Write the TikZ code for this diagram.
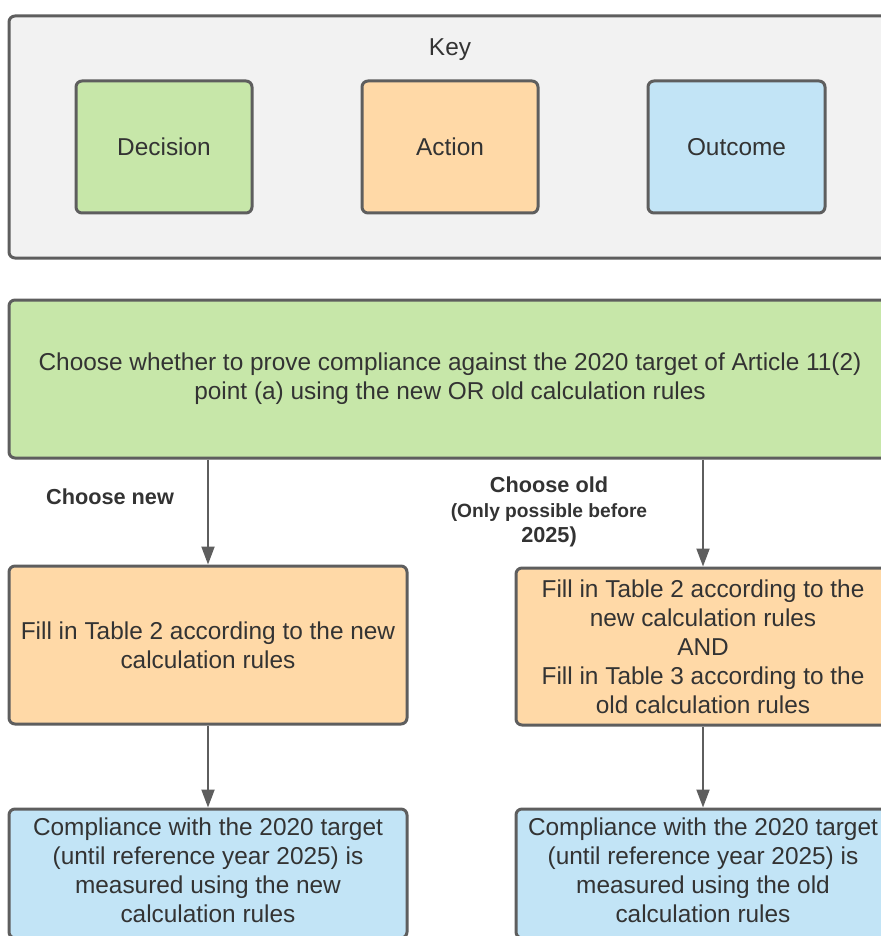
\documentclass[tikz,border=0pt]{standalone}
\usepackage{fontspec}
\setmainfont{Liberation Sans}
\usepackage{tikz}
\usetikzlibrary{arrows.meta}

\definecolor{keygray}{HTML}{F2F2F2}
\definecolor{edgegray}{HTML}{5E5E5E}
\definecolor{txtgray}{HTML}{333333}
\definecolor{decgreen}{HTML}{C7E7A9}
\definecolor{actorange}{HTML}{FFD9A7}
\definecolor{outblue}{HTML}{C2E4F6}

\begin{document}
\begin{tikzpicture}[x=0.5pt, y=-0.5pt,
                box/.style={draw=edgegray, line width=1.5pt, rounded corners=3pt, align=center, text=txtgray, font=\fontsize{12.2}{14.5}\selectfont, inner sep=0pt},
                decision/.style={box, fill=decgreen},
                action/.style={box, fill=actorange},
                outcome/.style={box, fill=outblue},
                flow/.style={draw=edgegray, line width=1pt, -{Triangle[length=9pt, width=6.5pt]}},
                choice/.style={text=txtgray, align=center, font=\bfseries\fontsize{10.85}{12.5}\selectfont}]
                \useasboundingbox (0,0) rectangle (881,936);
                \node[box, fill=keygray, minimum width=441pt, minimum height=121pt] (key) at (450,137) {};
                \node[text=txtgray, font=\fontsize{12.2}{14.5}\selectfont] (keytitle) at (450,50) {Key};
                \node[decision, minimum width=88pt, minimum height=66pt] (keydec) at (164,147) {Decision};
                \node[action, minimum width=88pt, minimum height=66pt] (keyact) at (450,147) {Action};
                \node[outcome, minimum width=88.5pt, minimum height=66pt] (keyout) at (736.5,147) {Outcome};
                \node[decision, minimum width=441pt, minimum height=79pt] (choose) at (450,379) {Choose whether to prove compliance against the 2020 target of Article 11(2)\\ point (a) using the new OR old calculation rules};
                \node[action, minimum width=199pt, minimum height=79pt] (newact) at (208,645) {Fill in Table 2 according to the new\\ calculation rules};
                \node[action, minimum width=187pt, minimum height=78.5pt] (oldact) at (703,646.5) {Fill in Table 2 according to the\\ new calculation rules\\ AND\\ Fill in Table 3 according to the\\ old calculation rules};
                \node[outcome, text depth=3.5pt, minimum width=199pt, minimum height=64.5pt] (newout) at (208,873.5) {Compliance with the 2020 target\\ (until reference year 2025) is\\ measured using the new\\ calculation rules};
                \node[outcome, text depth=3.5pt, minimum width=187pt, minimum height=64.5pt] (oldout) at (703,873.5) {Compliance with the 2020 target\\ (until reference year 2025) is\\ measured using the old\\ calculation rules};
                \node[choice] (newlabel) at (110,497) {Choose new};
                \node[choice] (oldlabel) at (549,512) {Choose old\\ \fontsize{9.6}{12.3}\selectfont (Only possible before\\ 2025)};
                \draw[flow] (choose.south -| newact.north) -- (newact.north);
                \draw[flow] (choose.south -| oldact.north) -- (oldact.north);
                \draw[flow] (newact.south) -- (newout.north);
                \draw[flow] (oldact.south) -- (oldout.north);
              \end{tikzpicture}
\end{document}
